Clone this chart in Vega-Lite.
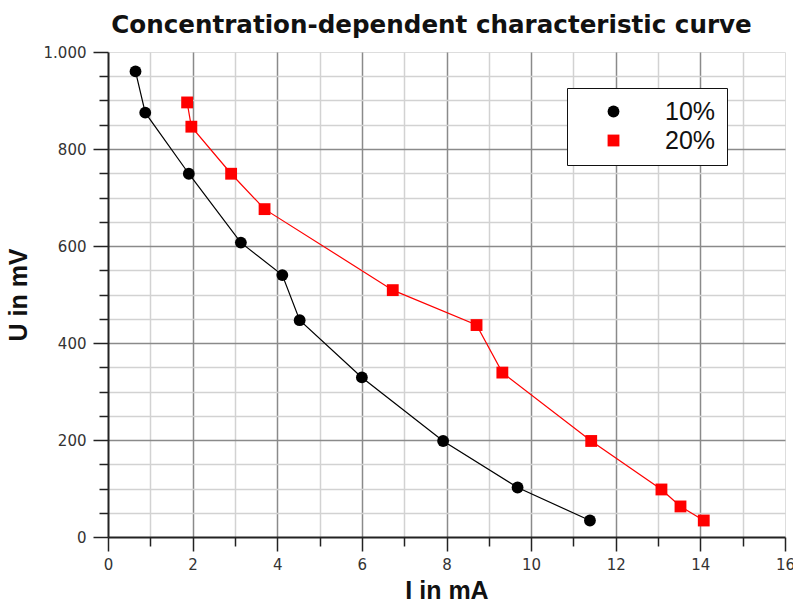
{
  "$schema": "https://vega.github.io/schema/vega-lite/v6.json",
  "autosize": {"type": "none"},
  "width": 677,
  "height": 485,
  "padding": {"left": 108, "top": 52, "right": 8, "bottom": 75},
  "background": "white",
  "title": {
    "text": "Concentration-dependent characteristic curve",
    "font": "DejaVu Sans",
    "fontSize": 24.6,
    "fontWeight": "bold",
    "color": "#111111",
    "anchor": "middle",
    "dx": -15,
    "offset": 6
  },
  "data": {
    "values": [
      {"series": "10%", "I": 0.65, "U": 960},
      {"series": "10%", "I": 0.88, "U": 875},
      {"series": "10%", "I": 1.91, "U": 749},
      {"series": "10%", "I": 3.14, "U": 607},
      {"series": "10%", "I": 4.12, "U": 540},
      {"series": "10%", "I": 4.53, "U": 447},
      {"series": "10%", "I": 6.0, "U": 329},
      {"series": "10%", "I": 7.92, "U": 198},
      {"series": "10%", "I": 9.68, "U": 102},
      {"series": "10%", "I": 11.39, "U": 34},
      {"series": "20%", "I": 1.87, "U": 896},
      {"series": "20%", "I": 1.97, "U": 846},
      {"series": "20%", "I": 2.91, "U": 749},
      {"series": "20%", "I": 3.7, "U": 676},
      {"series": "20%", "I": 6.73, "U": 509},
      {"series": "20%", "I": 8.71, "U": 437},
      {"series": "20%", "I": 9.32, "U": 339},
      {"series": "20%", "I": 11.42, "U": 198},
      {"series": "20%", "I": 13.08, "U": 98},
      {"series": "20%", "I": 13.53, "U": 63},
      {"series": "20%", "I": 14.08, "U": 34}
    ]
  },
  "encoding": {
    "x": {
      "field": "I",
      "type": "quantitative",
      "scale": {"domain": [0, 16], "nice": false, "zero": false},
      "axis": {
        "values": [0,0.5,1,1.5,2,2.5,3,3.5,4,4.5,5,5.5,6,6.5,7,7.5,8,8.5,9,9.5,10,10.5,11,11.5,12,12.5,13,13.5,14,14.5,15,15.5,16],
        "format": "d",
        "domainColor": "#222222",
        "domainWidth": 2,
        "tickColor": "#222222",
        "tickWidth": 1.5,
        "tickSize": {"condition": {"test": "datum.value % 2 === 0", "value": 14}, "value": 9},
        "grid": true,
        "gridColor": {"condition": {"test": "datum.value % 2 === 0", "value": "#8a8a8a"}, "value": "#d2d2d2"},
        "gridOpacity": {"condition": {"test": "datum.value === 0 || datum.value === 16", "value": 0}, "value": 1},
        "gridWidth": 1.5,
        "labelExpr": "datum.value % 2 === 0 ? datum.label : ''",
        "labelFont": "DejaVu Sans",
        "labelFontSize": 15,
        "labelColor": "#333333",
        "labelPadding": 6,
        "labelFlush": false,
        "labelOverlap": false,
        "title": "I in mA",
        "titleFont": "Liberation Sans",
        "titleFontSize": 25,
        "titleFontWeight": "bold",
        "titleColor": "#111111",
        "titlePadding": 6
      }
    },
    "y": {
      "field": "U",
      "type": "quantitative",
      "scale": {"domain": [0, 1000], "nice": false},
      "axis": {
        "values": [0,50,100,150,200,250,300,350,400,450,500,550,600,650,700,750,800,850,900,950,1000],
        "domainColor": "#222222",
        "domainWidth": 2,
        "tickColor": "#222222",
        "tickWidth": 1.5,
        "tickSize": {"condition": {"test": "datum.value % 200 === 0", "value": 15}, "value": 9},
        "grid": true,
        "gridColor": {"condition": {"test": "datum.value % 200 === 0", "value": "#8a8a8a"}, "value": "#d2d2d2"},
        "gridOpacity": {"condition": {"test": "datum.value === 0 || datum.value === 1000", "value": 0}, "value": 1},
        "gridWidth": 1.5,
        "labelExpr": "datum.value % 200 === 0 ? replace(datum.label, ',', '.') : ''",
        "labelFont": "DejaVu Sans",
        "labelFontSize": 15,
        "labelColor": "#333333",
        "labelPadding": 7,
        "labelFlush": false,
        "labelOverlap": false,
        "title": "U in mV",
        "titleFont": "Liberation Sans",
        "titleFontSize": 25,
        "titleFontWeight": "bold",
        "titleColor": "#111111",
        "titlePadding": 12
      }
    }
  },
  "layer": [
    {
      "mark": {"type": "line", "strokeWidth": 1.2},
      "encoding": {
        "order": {"field": "U", "type": "quantitative", "sort": "descending"},
        "detail": {"field": "series", "type": "nominal"},
        "stroke": {"condition": {"test": "datum.series === '20%'", "value": "#ff0000"}, "value": "#000000"}
      }
    },
    {
      "mark": {"type": "point", "filled": true, "opacity": 1, "size": 140},
      "encoding": {
        "shape": {
          "field": "series",
          "type": "nominal",
          "scale": {"domain": ["10%", "20%"], "range": ["circle", "square"]}
        },
        "color": {
          "field": "series",
          "type": "nominal",
          "scale": {"domain": ["10%", "20%"], "range": ["#000000", "#ff0000"]},
          "legend": {
            "orient": "none",
            "legendX": 459,
            "legendY": 36,
            "title": null,
            "fillColor": "white",
            "strokeColor": "#111111",
            "padding": 11,
            "labelFont": "Liberation Sans",
            "labelFontSize": 25,
            "labelColor": "#111111",
            "labelOffset": 39,
            "symbolSize": 140,
            "symbolOffset": 23,
            "rowPadding": 3
          }
        }
      }
    }
  ]
}
